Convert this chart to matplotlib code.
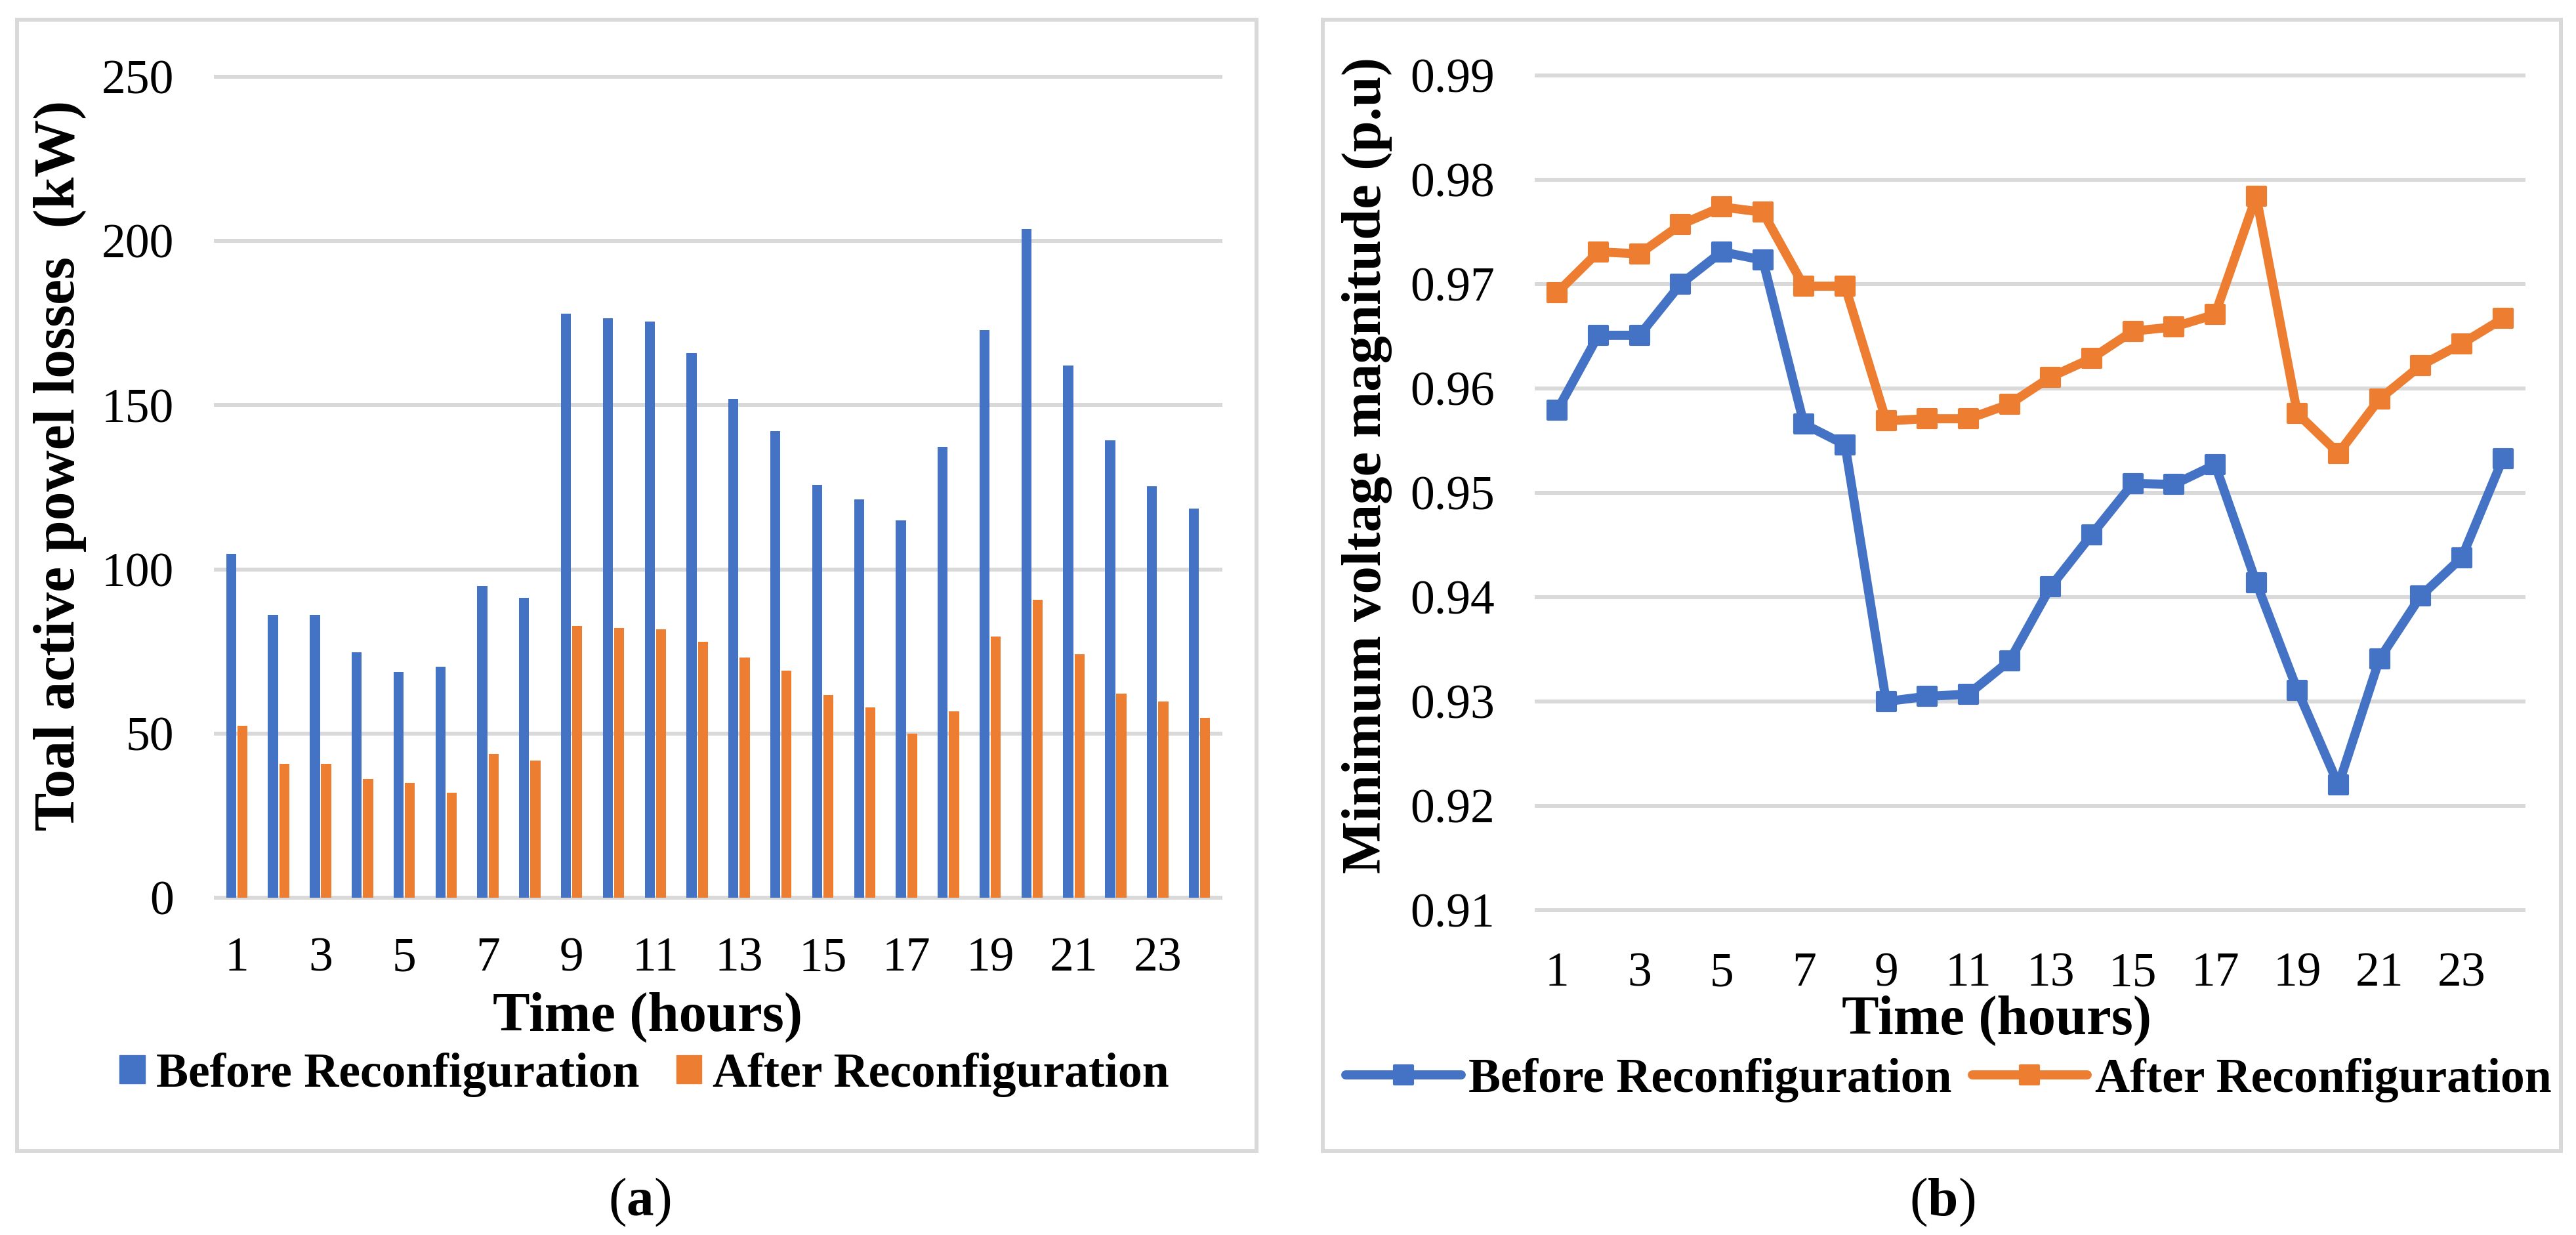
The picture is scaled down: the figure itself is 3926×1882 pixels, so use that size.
import matplotlib
matplotlib.use('Agg')
import matplotlib.pyplot as plt
from matplotlib.patches import Rectangle, Patch
from matplotlib.markers import MarkerStyle
import numpy as np

plt.rcParams['font.family'] = ['Liberation Serif', 'DejaVu Serif']
plt.rcParams['mathtext.fontset'] = 'custom'
plt.rcParams['mathtext.rm'] = 'Liberation Serif'
plt.rcParams['mathtext.bf'] = 'Liberation Serif:bold'

# ---------------- data ----------------
hours = list(range(1, 25))
xtick_hours = [1, 3, 5, 7, 9, 11, 13, 15, 17, 19, 21, 23]
xtick_labels = [str(h) for h in xtick_hours]

before_losses = [104.8, 86.2, 86.2, 74.8, 68.8, 70.4, 95.0, 91.3, 177.9, 176.4, 175.5, 165.9,
                 151.8, 142.0, 125.6, 121.3, 114.9, 137.2, 172.9, 203.6, 162.1, 139.2, 125.2, 118.5]
after_losses = [52.3, 40.8, 40.7, 36.2, 35.0, 32.0, 43.8, 41.8, 82.8, 82.2, 81.8, 77.9,
                73.1, 69.2, 61.8, 58.0, 50.0, 56.7, 79.6, 90.7, 74.1, 62.2, 59.8, 54.8]

before_voltage = [0.9579, 0.9651, 0.9651, 0.9700, 0.9731, 0.9723, 0.9566, 0.9546, 0.9300, 0.9305,
                  0.9307, 0.9339, 0.9410, 0.9460, 0.9509, 0.9508, 0.9527, 0.9414, 0.9311, 0.9220,
                  0.9341, 0.9401, 0.9438, 0.9533]
after_voltage = [0.9692, 0.9731, 0.9729, 0.9757, 0.9774, 0.9769, 0.9698, 0.9698, 0.9569, 0.9571,
                 0.9571, 0.9585, 0.9611, 0.9629, 0.9655, 0.9659, 0.9671, 0.9784, 0.9576, 0.9538,
                 0.9590, 0.9622, 0.9643, 0.9667]

loss_ticks = [0, 50, 100, 150, 200, 250]
volt_ticks = [0.91, 0.92, 0.93, 0.94, 0.95, 0.96, 0.97, 0.98, 0.99]

series_names = ['Before Reconfiguration', 'After Reconfiguration']

# ---------------- style ----------------
BLUE = '#4472C4'
ORANGE = '#ED7D31'
GRID = '#D9D9D9'
W, H = 3926, 1882

def fx(px):
    return px / W

def fy(py):
    return 1 - py / H

fig = plt.figure(figsize=(W / 100, H / 100), dpi=100)

# panel borders
for x0, x1 in [(26, 1915), (2016, 3903)]:
    fig.add_artist(Rectangle((fx(x0), fy(1754)), fx(x1) - fx(x0), fy(30) - fy(1754),
                             transform=fig.transFigure, fill=False, ec=GRID, lw=4.3))

TICK_FS = 53
TITLE_FS = 61
LEG_FS = 53

# ---------------- (a) bar chart ----------------
ax1 = fig.add_axes([fx(329), fy(1368), fx(1860) - fx(329), fy(117) - fy(1368)])
x = np.array(hours)
ax1.bar(x - 0.135, before_losses, 0.24, color=BLUE, zorder=3, label=series_names[0])
ax1.bar(x + 0.135, after_losses, 0.24, color=ORANGE, zorder=3, label=series_names[1])
ax1.set_xlim(0.5, 24.5)
ax1.set_ylim(0, 250)
ax1.set_yticks(loss_ticks)
ax1.set_yticklabels([str(v) for v in loss_ticks])
for v in loss_ticks:
    ax1.axhline(v, color=GRID, lw=4.3, zorder=1, clip_on=False)
ax1.set_xticks(xtick_hours)
ax1.set_xticklabels(xtick_labels)
for s in ax1.spines.values():
    s.set_visible(False)
ax1.tick_params(axis='y', length=0, labelsize=TICK_FS, pad=46)
ax1.tick_params(axis='x', length=0, labelsize=TICK_FS, pad=43)

fig.text(fx(92), fy(709), 'Toal active powel losses  (kW)', rotation=90,
         ha='center', va='center', fontsize=63, fontweight='bold')
fig.text(fx(987), fy(1571), 'Time (hours)', ha='center', va='baseline',
         fontsize=TITLE_FS, fontweight='bold')

h1 = [Patch(color=BLUE), Patch(color=ORANGE)]
fig.legend(h1, series_names, loc='center', bbox_to_anchor=(fx(982), fy(1638)),
           ncol=2, frameon=False, prop={'size': LEG_FS, 'weight': 'bold'},
           handlelength=0.52, handleheight=0.52, handletextpad=0.23,
           columnspacing=0.77, borderpad=0, borderaxespad=0)

fig.text(fx(975), fy(1832), r'($\mathbf{a}$)', ha='center', va='center', fontsize=60)

# ---------------- (b) line chart ----------------
ax2 = fig.add_axes([fx(2342), fy(1387), fx(3846) - fx(2342), fy(115) - fy(1387)])
mk = MarkerStyle('s', joinstyle='round')
l1, = ax2.plot(hours, before_voltage, color=BLUE, lw=10, marker=mk, ms=20, mew=3,
               mec=BLUE, mfc=BLUE, solid_joinstyle='round', solid_capstyle='round', zorder=3)
l2, = ax2.plot(hours, after_voltage, color=ORANGE, lw=10, marker=mk, ms=20, mew=3,
               mec=ORANGE, mfc=ORANGE, solid_joinstyle='round', solid_capstyle='round', zorder=3)
ax2.set_xlim(0.5, 24.5)
ax2.set_ylim(0.91, 0.99)
ax2.set_yticks(volt_ticks)
ax2.set_yticklabels(['%.2f' % v for v in volt_ticks])
for v in volt_ticks:
    ax2.axhline(v, color=GRID, lw=4.3, zorder=1, clip_on=False)
ax2.set_xticks(xtick_hours)
ax2.set_xticklabels(xtick_labels)
for s in ax2.spines.values():
    s.set_visible(False)
ax2.tick_params(axis='y', length=0, labelsize=TICK_FS, pad=46)
ax2.tick_params(axis='x', length=0, labelsize=TICK_FS, pad=46)

fig.text(fx(2083), fy(709), 'Minimum voltage magnitude (p.u)', rotation=90,
         ha='center', va='center', fontsize=TITLE_FS, fontweight='bold')
fig.text(fx(3043), fy(1576), 'Time (hours)', ha='center', va='baseline',
         fontsize=TITLE_FS, fontweight='bold')

fig.legend([l1, l2], series_names, loc='center', bbox_to_anchor=(fx(2970), fy(1646)),
           ncol=2, frameon=False, prop={'size': LEG_FS, 'weight': 'bold'},
           handlelength=2.38, handletextpad=0.16, columnspacing=0.42,
           borderpad=0, borderaxespad=0, numpoints=1)

fig.text(fx(2960), fy(1832), r'($\mathbf{b}$)', ha='center', va='center', fontsize=60)

fig.savefig('out.png', dpi=100)
